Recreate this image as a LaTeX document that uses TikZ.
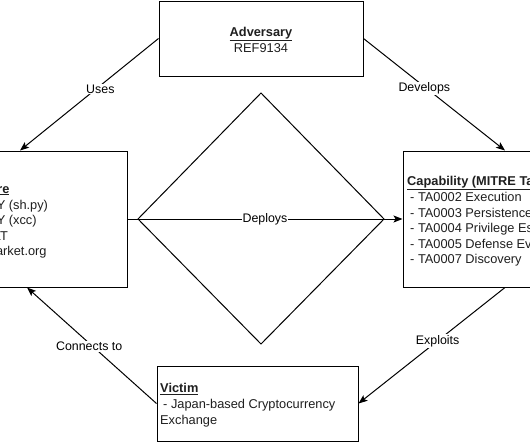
\documentclass[tikz,border=0pt]{standalone}
\usepackage{fontspec}
\setmainfont{Liberation Sans}
\usetikzlibrary{arrows.meta}
\begin{document}
\begin{tikzpicture}[x=1pt,y=-1pt,
  box/.style={draw=black, line width=1pt, inner sep=0pt, fill=white},
  txt/.style={anchor=base west, inner sep=0pt, font=\fontsize{12.8}{15.6}\selectfont, text=black!88},
  ctxt/.style={anchor=base, inner sep=0pt, font=\fontsize{12.8}{15.6}\selectfont, text=black!88},
  lbl/.style={fill=white, inner sep=1pt, font=\fontsize{12.4}{14}\selectfont, text=black},
  arr/.style={draw=black, line width=1pt, -{Stealth[length=9pt,width=7pt,inset=2pt]}}]
\useasboundingbox (0,0) rectangle (530,442);
\clip (0,0) rectangle (530,442);
% boxes
\node[box, minimum width=204, minimum height=75] (adv) at (261,38.5) {};
\node[box, minimum width=204, minimum height=136] (infra) at (25,219) {};
\node[box, minimum width=204, minimum height=136] (cap) at (505,219) {};
\node[box, minimum width=201, minimum height=75] (vic) at (257.5,403.5) {};
% diamond
\draw[line width=1pt, line join=miter] (261,93) -- (384,219) -- (261,344) -- (138,219) -- cycle;
% connectors
\draw[arr] (adv.west) -- node[lbl,pos=0.42,yshift=-3.5pt]{Uses} ([xshift=-5pt]infra.north);
\draw[arr] (adv.east) -- node[lbl,pos=0.43,yshift=-2pt]{Develops} (cap.north);
\draw[arr] (cap.south) -- node[lbl,pos=0.46]{Exploits} (vic.east);
\draw[arr] (vic.west) -- node[lbl,pos=0.52,yshift=-3.5pt]{Connects to} ([xshift=2pt]infra.south);
\draw[arr] (infra.east) -- node[lbl,pos=0.5,inner sep=0.5pt]{Deploys} (cap.west);
% adversary text
\node[ctxt] (advh) at (261,36) {\underline{\textbf{Adversary}}};
\node[ctxt] (adv1) at (261,52) {REF9134};
% infrastructure text
\node[txt] (infh) at (-74,193) {\underline{\textbf{Infrastructure}}};
\node[txt] (inf1) at (-71,209) {- JOKERSPY (sh.py)};
\node[txt] (inf2) at (-71,224.6) {- JOKERSPY (xcc)};
\node[txt] (inf3) at (-71,240.2) {- SWIFTBELT};
\node[txt] (inf4) at (-71,255.8) {- app.influmarket.org};
% capability text
\node[txt] (caph) at (407,185) {\underline{\textbf{Capability (MITRE Tactics)}}};
\node[txt] (cap1) at (410,201.5) {- TA0002 Execution};
\node[txt] (cap2) at (410,217.1) {- TA0003 Persistence};
\node[txt] (cap3) at (410,232.7) {- TA0004 Privilege Escalation};
\node[txt] (cap4) at (410,248.3) {- TA0005 Defense Evasion};
\node[txt] (cap5) at (410,263.9) {- TA0007 Discovery};
% victim text
\node[txt] (vich) at (160,392.5) {\underline{\textbf{Victim}}};
\node[txt] (vic1) at (163,408) {- Japan-based Cryptocurrency};
\node[txt] (vic2) at (160,424) {Exchange};
\end{tikzpicture}
\end{document}
